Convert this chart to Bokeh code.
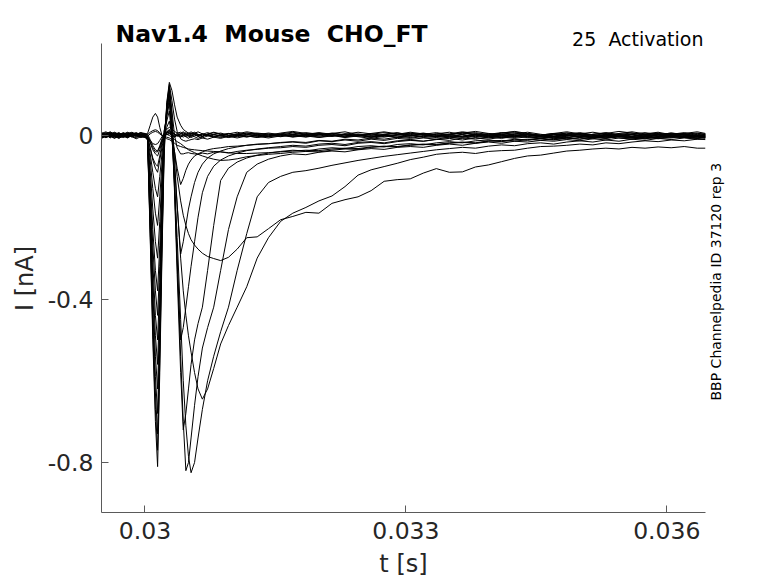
from math import pi
from bokeh.plotting import figure
from bokeh.models import Range1d, FixedTicker, Label, CustomJSTickFormatter, LinearAxis
from bokeh.embed import file_html
from bokeh.resources import INLINE

# time grid, ms after 30 ms
t_ms = [-0.50, -0.45, -0.40, -0.35, -0.30, -0.25, -0.20, -0.15, -0.10, -0.05, 0.00,
        0.03, 0.06, 0.09, 0.12, 0.145, 0.17, 0.195, 0.22, 0.25, 0.28,
        0.31, 0.34, 0.37, 0.41, 0.44, 0.47, 0.50, 0.53, 0.57, 0.61,
        0.66, 0.72, 0.79, 0.87, 0.96, 1.06, 1.17, 1.29, 1.42, 1.56,
        1.70, 1.85, 2.00, 2.15, 2.30, 2.45, 2.60, 2.75, 2.90, 3.05, 3.20,
        3.35, 3.50, 3.65, 3.80, 3.95, 4.10, 4.25, 4.40, 4.55, 4.70,
        4.85, 5.00, 5.15, 5.30, 5.45, 5.60, 5.75, 5.90, 6.05, 6.20, 6.35, 6.445]
T0 = 0.030

I_J = [.004, -.003, .006, .000, -.005, .003, .007, -.002, -.006, .002, .001,
       -.01, -.25, -.50, -.70, -.81, -.58, -.30, -.05, .08, .13,
       .11, .075, .045, .025, .015, .01, .006, .004, .006, .002,
       -.003, .004, .007, .002, -.004, .001, .006, .003, -.002, .004,
       .008, .003, -.002, .005, .009, .002, -.004, .003, .007, .001, -.003,
       .004, .008, .002, -.005, .001, .006, .009, .003, -.002, .005,
       .001, -.004, .003, .007, .002, -.003, .004, .008, .002, -.002, .005, .003]
I_K = [-.004, .002, -.006, .003, .007, .001, -.003, .004, .000, -.005, -.002,
       -.012, -.24, -.48, -.67, -.77, -.55, -.28, -.04, .075, .125,
       .085, .04, .01, -.008, -.012, -.014, -.012, -.01, -.008, -.01,
       -.006, -.009, -.004, -.007, -.002, -.006, -.001, -.004, .001, -.003,
       .002, -.003, .003, -.002, .004, .000, -.004, .002, .006, .001, -.005,
       -.002, .003, .007, .001, -.004, .002, -.003, .004, .000, -.006,
       -.001, .004, .001, -.004, .003, .006, .000, -.005, .002, .005, -.002, .001]
I_L = [.002, .007, .001, -.004, .002, -.003, .004, .006, .000, .003, -.001,
       -.008, -.23, -.45, -.63, -.73, -.52, -.26, -.03, .07, .12,
       .06, .0, -.03, -.045, -.045, -.043, -.042, -.044, -.045, -.046,
       -.043, -.045, -.041, -.04, -.043, -.039, -.036, -.034, -.031, -.03,
       -.027, -.029, -.024, -.022, -.025, -.019, -.017, -.02, -.015, -.012, -.014,
       -.009, -.012, -.006, -.009, -.004, -.007, -.002, -.005, -.008, -.003,
       -.006, -.001, -.004, .001, -.003, -.006, -.002, .002, -.003, -.005, .000, -.002]
I_I = [-.006, -.001, .004, -.002, -.007, -.001, .003, -.003, .005, .001, -.003,
       -.01, -.21, -.42, -.59, -.68, -.48, -.24, -.02, .065, .115,
       .05, -.06, -.17, -.29, -.26, -.22, -.18, -.15, -.115, -.09,
       -.07, -.055, -.045, -.038, -.032, -.028, -.024, -.022, -.02, -.018,
       -.016, -.019, -.013, -.015, -.011, -.014, -.009, -.012, -.007, -.01, -.006,
       -.009, -.004, -.007, -.002, -.006, -.001, -.005, .001, -.003, -.006,
       -.002, .002, -.003, -.006, -.001, .003, -.002, -.005, .000, .003, -.002, -.004]
I_H = [.006, .001, -.004, .003, .000, .006, .002, -.003, .002, .007, .002,
       -.01, -.19, -.38, -.54, -.62, -.44, -.22, -.01, .06, .11,
       .03, -.12, -.30, -.50, -.47, -.42, -.37, -.32, -.26, -.20,
       -.14, -.10, -.075, -.06, -.05, -.043, -.037, -.033, -.03, -.027,
       -.024, -.026, -.021, -.019, -.022, -.017, -.015, -.018, -.013, -.011, -.014,
       -.01, -.007, -.011, -.006, -.009, -.004, -.007, -.003, -.006, -.002,
       -.005, -.001, -.004, .001, -.003, -.006, -.001, .002, -.003, -.001, .002, -.002]
I_G = [-.002, .004, .008, .002, -.003, .003, -.001, .005, .002, -.002, .003,
       -.008, -.17, -.35, -.49, -.56, -.40, -.20, .0, .055, .10,
       .02, -.14, -.34, -.58, -.72, -.68, -.62, -.56, -.50, -.46,
       -.42, -.33, -.22, -.11, -.08, -.065, -.055, -.048, -.043, -.039,
       -.036, -.038, -.033, -.03, -.032, -.027, -.025, -.028, -.022, -.02, -.023,
       -.018, -.015, -.018, -.013, -.011, -.014, -.009, -.012, -.007, -.01,
       -.006, -.009, -.004, -.007, -.002, -.005, -.008, -.003, -.006, -.001, -.004, -.006]
I_F = [.001, -.005, .000, .006, .003, -.002, -.006, .001, .004, -.001, -.004,
       -.01, -.15, -.31, -.44, -.50, -.36, -.18, .01, .05, .09,
       .01, -.13, -.31, -.54, -.70, -.82, -.80, -.74, -.66, -.59,
       -.52, -.47, -.42, -.33, -.23, -.15, -.09, -.07, -.058, -.05,
       -.045, -.047, -.041, -.038, -.04, -.035, -.032, -.034, -.029, -.027, -.029,
       -.024, -.021, -.024, -.019, -.016, -.019, -.014, -.016, -.012, -.014,
       -.01, -.013, -.008, -.011, -.006, -.009, -.004, -.008, -.005, -.002, -.006, -.004]
I_E = [.005, .001, .006, -.002, .002, .007, .003, -.001, .004, .000, .004,
       -.006, -.13, -.27, -.38, -.44, -.32, -.16, .01, .045, .08,
       .0, -.11, -.25, -.45, -.60, -.71, -.785, -.825, -.80, -.74,
       -.67, -.60, -.54, -.48, -.42, -.33, -.24, -.15, -.115, -.10,
       -.09, -.086, -.08, -.073, -.067, -.061, -.056, -.051, -.047, -.043, -.039,
       -.035, -.032, -.029, -.031, -.026, -.023, -.025, -.02, -.018, -.021,
       -.016, -.013, -.016, -.011, -.014, -.009, -.012, -.007, -.01, -.006, -.009, -.008]
I_D = [-.003, .003, -.002, -.007, -.001, .004, -.002, .002, -.004, .001, .000,
       -.005, -.11, -.23, -.33, -.38, -.27, -.13, .0, .035, .06,
       -.01, -.08, -.17, -.30, -.38, -.44, -.49, -.53, -.58, -.62,
       -.645, -.62, -.57, -.51, -.465, -.42, -.37, -.30, -.25, -.21,
       -.19, -.176, -.16, -.148, -.125, -.097, -.084, -.076, -.068, -.059, -.053,
       -.046, -.043, -.041, -.044, -.039, -.037, -.036, -.031, -.027, -.026,
       -.024, -.021, -.023, -.018, -.02, -.016, -.013, -.015, -.011, -.013, -.009, -.01]
I_C = [.003, -.002, .002, .006, .001, -.004, .001, .005, -.001, .003, .002,
       -.004, -.085, -.18, -.26, -.30, -.21, -.10, .0, .02, .035,
       .0, -.04, -.10, -.16, -.195, -.22, -.24, -.255, -.268, -.278,
       -.288, -.296, -.301, -.306, -.298, -.278, -.25, -.248, -.228, -.206,
       -.198, -.188, -.19, -.166, -.157, -.15, -.135, -.112, -.108, -.106, -.092,
       -.081, -.09, -.089, -.077, -.072, -.064, -.056, -.05, -.048, -.043,
       -.038, -.036, -.033, -.031, -.033, -.029, -.031, -.028, -.03, -.027, -.031, -.031]
I_B = [-.005, .000, .005, .001, -.004, .002, -.005, .000, .003, -.003, -.002,
       -.006, -.06, -.13, -.19, -.22, -.15, -.07, -.01, .008, .015,
       -.005, -.01, -.015, -.02, -.025, -.03, -.035, -.038, -.042, -.046,
       -.05, -.054, -.058, -.061, -.06, -.057, -.052, -.049, -.046, -.044,
       -.041, -.039, -.04, -.036, -.033, -.034, -.029, -.027, -.028, -.024, -.022,
       -.023, -.019, -.017, -.019, -.014, -.012, -.014, -.01, -.008, -.011,
       -.006, -.009, -.004, -.007, -.002, -.005, -.008, -.003, -.001, -.005, -.002, -.004]
I_A = [.001, .006, .002, -.003, .004, .000, .005, .008, .003, -.001, .002,
       .005, .025, .045, .054, .045, .02, .0, -.005, -.004, -.006,
       -.01, -.04, -.08, -.12, -.105, -.085, -.07, -.06, -.05, -.045,
       -.04, -.035, -.032, -.03, -.027, -.026, -.024, -.021, -.02, -.017,
       -.015, -.017, -.012, -.014, -.009, -.011, -.006, -.009, -.004, -.007, -.002,
       -.005, -.001, -.004, .001, -.003, .003, -.001, .004, .000, -.003,
       .002, -.002, .003, .006, .001, -.003, .002, .005, -.001, .003, .006, .002]
I_N1 = [.002, -.004, .001, .005, -.001, -.005, .000, .004, .007, .002, -.002,
        -.005, -.045, -.09, -.13, -.15, -.10, -.045, -.005, .006, .008,
        .003, -.004, .001, .005, .001, -.003, .002, .006, .002, -.002,
        .003, .007, .002, -.002, .004, .008, .003, -.001, .004, .001,
        -.003, .002, .006, .001, -.004, .001, .005, .009, .004, .000, .005,
        .002, -.003, .003, .007, .002, -.002, .004, .001, -.004, .002,
        .006, .002, -.003, .001, .005, .009, .004, -.001, .003, .007, .002, .004]
I_N2 = [-.001, .004, .009, .003, -.002, .005, .001, -.004, .002, .006, .004,
        .0, -.03, -.06, -.08, -.09, -.06, -.03, .0, .008, .01,
        .006, .002, -.002, .003, .007, .002, -.003, .001, .005, .009,
        .004, -.001, .003, .006, .001, -.003, .002, .006, .003, -.002,
        .002, .007, .003, -.002, .003, .008, .004, -.001, .002, .006, .001,
        -.003, .002, .006, .010, .005, .000, .004, .008, .003, -.001,
        .003, .007, .002, -.002, .004, .001, -.003, .002, .006, .003, -.001, .003]
I_N3 = [.007, .002, -.003, .002, .006, .001, -.004, .003, -.002, .004, .001,
        -.003, -.018, -.035, -.045, -.05, -.035, -.015, .002, .008, .006,
        .002, -.003, .001, -.004, .0, .004, -.001, -.005, -.001, .003,
        -.002, .002, -.003, .001, .005, .000, -.004, .001, -.003, .002,
        .006, .001, -.004, .000, -.005, -.001, .004, .000, -.004, .002, .006,
        .001, -.003, .002, -.002, .003, .007, .002, -.003, .001, .005,
        .000, -.005, -.001, .003, -.002, .002, -.003, .001, .005, .000, -.004, .000]
I_N4 = [-.003, .001, -.004, .002, .005, .000, .004, -.002, .002, -.004, .000,
        -.004, -.015, -.03, -.04, -.04, -.028, -.012, -.004, -.008, -.01,
        -.014, -.019, -.024, -.027, -.029, -.031, -.033, -.034, -.035, -.036,
        -.037, -.038, -.039, -.04, -.042, -.044, -.044, -.043, -.042, -.04,
        -.038, -.036, -.037, -.033, -.031, -.032, -.028, -.026, -.027, -.023, -.021,
        -.022, -.018, -.016, -.018, -.013, -.015, -.011, -.009, -.012, -.007,
        -.009, -.005, -.008, -.003, -.006, -.009, -.004, -.007, -.002, -.005, -.007, -.004]
I_N5 = [.000, -.005, -.001, .004, -.002, .003, .008, .003, -.001, .004, .000,
        -.004, -.012, -.02, -.022, -.02, -.012, -.003, .004, .003, .0,
        -.004, .001, .005, .000, -.004, .002, .006, .001, -.003, -.007,
        -.002, .003, -.001, -.005, .000, .004, -.001, -.005, -.001, .004,
        .000, -.004, .001, .005, .001, -.003, -.007, -.002, .002, -.002, .003,
        .007, .002, -.002, .003, -.001, -.005, .000, .004, .000, -.004,
        .001, .005, .001, -.004, .000, -.005, -.001, .003, -.001, -.005, .000, -.003]
I_N6 = [.005, .009, .004, .000, .005, .001, -.003, .002, .006, .001, .003,
        .002, .008, .012, .014, .012, .006, .001, -.002, .003, .005,
        .008, .004, .000, .005, .009, .004, .000, .004, .008, .003,
        -.001, .003, .008, .004, .000, .004, .009, .005, .001, .006,
        .010, .005, .001, .006, .002, -.002, .003, .007, .003, .008, .004,
        .000, .004, .009, .005, .001, .006, .010, .005, .001, .005,
        .009, .004, .000, .005, .010, .006, .002, .006, .001, .005, .009, .005]
I_N7 = [-.007, -.002, .003, -.001, -.006, -.002, .002, -.003, -.008, -.003, -.005,
        -.008, -.03, -.055, -.07, -.075, -.05, -.02, .0, .01, .012,
        .008, .004, .000, -.004, .001, -.003, -.007, -.002, .002, -.002,
        -.006, -.001, .003, -.001, -.005, -.001, .003, -.002, -.006, -.001,
        .003, -.001, -.005, -.001, .004, .000, -.004, .000, -.005, -.001, .003,
        -.002, -.006, -.002, .003, .000, -.004, .001, -.003, -.007, -.002,
        .002, -.002, -.006, -.001, .003, -.002, -.006, -.002, .002, -.003, -.007, -.004]
I_N8 = [.003, -.001, .004, .008, .003, -.002, .002, -.002, .003, .007, .005,
        .003, -.01, -.025, -.035, -.038, -.025, -.008, .006, .015, .02,
        .016, .01, .006, .008, .004, .000, .005, .009, .004, .000,
        .004, .000, -.004, .001, .005, .001, -.003, .002, .006, .002,
        -.002, .003, .007, .003, -.001, .004, .000, -.004, .001, .005, .002,
        -.003, .002, .006, .002, -.002, .003, .007, .002, -.002, .003,
        -.001, .004, .008, .003, -.001, .003, -.002, .002, .006, .002, -.002, .001]
I_N9 = [-.002, .003, -.001, -.006, -.001, .004, .000, .005, .001, -.003, -.001,
        -.002, .004, .008, .01, .008, .004, .0, -.003, .002, .004,
        .001, -.003, .002, -.002, .003, .007, .002, -.002, .003, -.001,
        .004, .000, -.004, .001, -.003, .002, .006, .001, -.003, .001,
        -.004, .000, .005, .001, -.003, .002, -.002, .003, -.001, -.005, .000,
        .004, .000, -.004, .001, .005, .001, -.003, .001, -.003, .002,
        .006, .001, -.003, .002, -.002, .003, .007, .002, -.002, .002, -.003, .000]

traces = [I_N1, I_N2, I_N3, I_N4, I_N5, I_N6, I_N7, I_N8, I_N9,
          I_A, I_B, I_C, I_D, I_E, I_F, I_G, I_H, I_I, I_L, I_K, I_J]

x_ticks = [0.030, 0.033, 0.036]
y_ticks = [-0.8, -0.4, 0.0]
y_axis_span = (-0.9223, 0.2251)      # visible extent of the y axis line

title_text = "Nav1.4 \u00a0Mouse \u00a0CHO_FT"
protocol_text = "25 \u00a0Activation"
side_text = "BBP Channelpedia ID 37120 rep 3"
side_text_start = -0.6483   # y where the vertical note begins
x_label = "t [s]"
y_label = "I [nA]"
y_label_center = -0.3499    # y at the middle of the axis span

# anchor points of the header texts (data units)
title_pos = (0.0296607, 0.2471)
protocol_pos = (0.036422, 0.2349)

t_s = [T0 + v / 1000.0 for v in t_ms]

p = figure(frame_width=604, frame_height=504, output_backend="svg", toolbar_location=None,
           x_range=Range1d(0.0295, 0.036445), y_range=Range1d(-0.9223, 0.3107),
           min_border_left=101, min_border_right=65, min_border_top=8, min_border_bottom=60)
p.outline_line_color = None
p.xgrid.visible = False
p.ygrid.visible = False
p.background_fill_color = "white"
p.border_fill_color = "white"

for tr in traces:
    n = min(len(tr), len(t_s))
    p.line(t_s[:n], tr[:n], line_color="black", line_width=1.0)

fmt = CustomJSTickFormatter(code="""
if (Math.abs(tick) < 1e-12) { return "0"; }
return String(parseFloat(tick.toFixed(4)));
""")
p.xaxis.ticker = FixedTicker(ticks=x_ticks)
p.yaxis.ticker = FixedTicker(ticks=y_ticks)
p.yaxis[0].bounds = y_axis_span
for ax in (p.xaxis[0], p.yaxis[0]):
    ax.formatter = fmt
    ax.major_tick_in = 7
    ax.major_tick_out = 0
    ax.minor_tick_line_color = None
    ax.axis_line_color = "#5a5a5a"
    ax.major_tick_line_color = "#5a5a5a"
    ax.major_label_text_font = "DejaVu Sans"
    ax.major_label_text_font_size = "23.5px"
    ax.major_label_text_color = "#262626"
    ax.axis_label_text_font = "DejaVu Sans"
    ax.axis_label_text_font_style = "normal"
    ax.axis_label_text_font_size = "24px"
    ax.axis_label_text_color = "#262626"
p.xaxis[0].major_label_standoff = 9
p.yaxis[0].major_label_standoff = 8
p.xaxis[0].axis_label = x_label
p.xaxis[0].axis_label_standoff = 8

# y label, carried by a hidden outer left axis so it centres on the axis span
ylab_fmt = CustomJSTickFormatter(args=dict(txt=y_label), code="return txt;")
lax = LinearAxis(ticker=FixedTicker(ticks=[y_label_center]), formatter=ylab_fmt,
                 axis_line_color=None, major_tick_line_color=None,
                 minor_tick_line_color=None,
                 major_tick_in=0, major_tick_out=0, major_label_standoff=5,
                 major_label_orientation="vertical",
                 major_label_text_font="DejaVu Sans", major_label_text_font_size="24px",
                 major_label_text_color="#262626")
p.add_layout(lax, "left")

# right side vertical note, carried by a hidden axis as its single tick label
side_fmt = CustomJSTickFormatter(args=dict(txt=side_text), code="return txt;")
rax = LinearAxis(ticker=FixedTicker(ticks=[side_text_start]), formatter=side_fmt,
                 axis_line_color=None, major_tick_line_color=None,
                 minor_tick_line_color=None,
                 major_tick_in=0, major_tick_out=0, major_label_standoff=10,
                 major_label_orientation=pi / 2,
                 major_label_text_font="DejaVu Sans", major_label_text_font_size="14px",
                 major_label_text_color="black")
p.add_layout(rax, "right")

p.add_layout(Label(x=title_pos[0], y=title_pos[1], text=title_text,
                   text_font="DejaVu Sans", text_font_style="bold", text_font_size="23.5px",
                   text_color="black", text_align="left", text_baseline="alphabetic"))
p.add_layout(Label(x=protocol_pos[0], y=protocol_pos[1], text=protocol_text,
                   text_font="DejaVu Sans", text_font_size="19px",
                   text_color="black", text_align="right", text_baseline="alphabetic"))

open("out.html", "w").write(file_html(p, INLINE))
